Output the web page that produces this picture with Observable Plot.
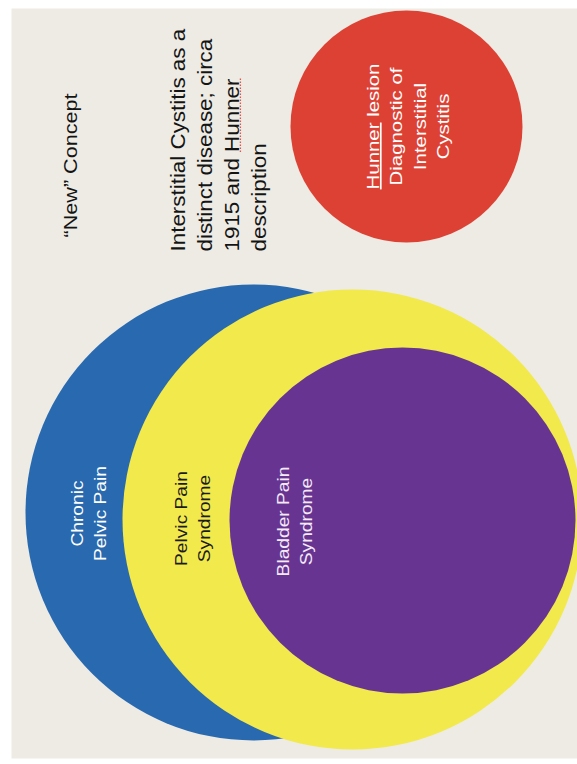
<!DOCTYPE html>
<html><head><meta charset="utf-8">
<script src="https://cdn.jsdelivr.net/npm/d3@7"></script>
<script src="https://cdn.jsdelivr.net/npm/@observablehq/plot@0.6"></script>
<style>html,body{margin:0;padding:0;background:#fff;} svg{display:block}</style>
</head><body><div id="chart"></div>
<script>
// Euler diagram of nested pain syndromes (drawn back to front)
const setLabels = ["Chronic\nPelvic Pain", "Pelvic Pain\nSyndrome", "Bladder Pain\nSyndrome", "Hunner lesion\nDiagnostic of\nInterstitial\nCystitis"];
const setCx = [253, 352, 402, 406];
const setCy = [512, 519, 520, 126];
const setR = [228, 230, 173, 116];
const labelCx = [87, 191, 293, 406];
const labelCy = [513, 518, 521, 126];
const setColors = ["#2869af", "#f2e94c", "#683492", "#dd4134"];
const labelColors = ["#ffffff", "#1b1b1b", "#f3eaf7", "#ffffff"];
const notes = ["\u201cNew\u201d Concept", "Interstitial Cystitis as a\ndistinct disease; circa\n1915 and Hunner\ndescription"];
const noteX = [71, 216];
const noteY = [165, 251];

const idx = d3.range(setLabels.length);
const font = "'Liberation Sans', Arial, Helvetica, sans-serif";

const chart = Plot.plot({
  width: 577, height: 764,
  marginLeft: 11, marginTop: 8, marginRight: 0, marginBottom: 6,
  style: {fontFamily: font, background: "#ffffff"},
  x: {domain: [0, 577], range: [0, 577], axis: null},
  y: {domain: [0, 764], range: [0, 764], axis: null},
  r: {type: "identity"},
  color: {type: "identity"},
  marks: [
    Plot.frame({fill: "#edebe4", stroke: null}),
    ...idx.map(i => Plot.dot([i], {x: d => setCx[d], y: d => setCy[d], r: d => setR[d], fill: d => setColors[d]})),
    Plot.text(idx.slice(0, 3), {x: d => labelCx[d], y: d => labelCy[d], text: d => setLabels[d], fill: d => labelColors[d],
      rotate: -90, fontSize: 16, lineHeight: 1.44, textAnchor: "middle", lineAnchor: "middle"}),
    Plot.text([3], {x: d => labelCx[d], y: d => labelCy[d], text: d => setLabels[d], fill: d => labelColors[d],
      rotate: -90, fontSize: 17, lineHeight: 1.37, textAnchor: "middle", lineAnchor: "middle"}),
    Plot.text([0], {x: d => noteX[d], y: d => noteY[d], text: d => notes[d], fill: "#141414",
      rotate: -90, fontSize: 18, textAnchor: "middle", lineAnchor: "middle"}),
    Plot.text([1], {x: d => noteX[d], y: d => noteY[d], text: d => notes[d], fill: "#141414",
      rotate: -90, fontSize: 20, lineHeight: 1.35, textAnchor: "start", lineAnchor: "middle"})
  ]
});
document.getElementById("chart").appendChild(chart);

// stretch of the original slide lettering along the reading direction
const stretch = {"16": 1.2, "17": 1.2, "18": 1.2, "20": 1.12};
chart.querySelectorAll("g[font-size]").forEach(g => {
  const f = stretch[g.getAttribute("font-size")];
  if (!f) return;
  g.querySelectorAll("text").forEach(t => {
    const tr = t.getAttribute("transform");
    if (tr) t.setAttribute("transform", tr + ` scale(${f},1)`);
  });
});

// "Hunner": white underline in the red disc, red spell-check squiggle in the note
const svgNS = "http://www.w3.org/2000/svg";
chart.querySelectorAll("text tspan").forEach(ts => {
  const s = ts.textContent;
  if (s === "Hunner lesion") {
    ts.innerHTML = '<tspan style="text-decoration: underline">Hunner</tspan> lesion';
  } else if (s === "1915 and Hunner") {
    ts.innerHTML = '1915 and <tspan class="squiggle">Hunner</tspan>';
  }
});
const sq = chart.querySelector("tspan.squiggle");
if (sq) {
  const sb = chart.getBoundingClientRect(), b = sq.getBoundingClientRect();
  const line = document.createElementNS(svgNS, "line");
  const xx = b.right - sb.left - 2;
  line.setAttribute("x1", xx); line.setAttribute("x2", xx);
  line.setAttribute("y1", b.top - sb.top); line.setAttribute("y2", b.bottom - sb.top);
  line.setAttribute("stroke", "#e0554a"); line.setAttribute("stroke-width", 1.3);
  line.setAttribute("stroke-dasharray", "1.5,1.5");
  chart.appendChild(line);
}
</script></body></html>
